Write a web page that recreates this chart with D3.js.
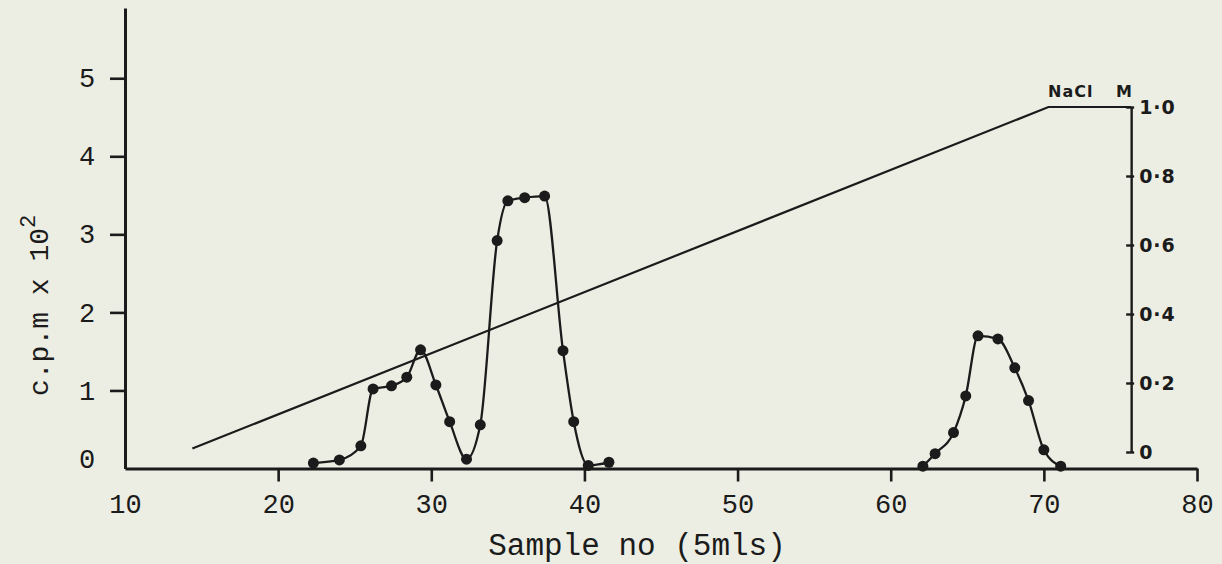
<!DOCTYPE html>
<html>
<head>
<meta charset="utf-8">
<script src="https://cdn.jsdelivr.net/npm/d3@7"></script>
<style>
  html, body { margin: 0; padding: 0; background: #eceee4; }
  svg { display: block; }
</style>
</head>
<body>
<svg id="chart" width="1222" height="564"></svg>
<script>
// Elution profile: radioactivity per fraction and the NaCl gradient.

// First radioactive peak (fractions ~22-41)
const peakASample = [22.3, 24.0, 25.4, 26.2, 27.4, 28.4, 29.3, 30.3, 31.2, 32.3, 33.2, 34.3, 35.0, 36.1, 37.4, 38.6, 39.3, 40.25, 41.6];
const peakACpm    = [0.07, 0.11, 0.29, 1.02, 1.06, 1.17, 1.52, 1.07, 0.60, 0.12, 0.56, 2.92, 3.43, 3.47, 3.49, 1.51, 0.60, 0.04, 0.08];

// Second radioactive peak (fractions ~62-71)
const peakBSample = [62.1, 62.9, 64.1, 64.9, 65.7, 67.0, 68.1, 69.0, 70.0, 71.1];
const peakBCpm    = [0.03, 0.19, 0.46, 0.93, 1.70, 1.66, 1.29, 0.87, 0.24, 0.03];

// Linear NaCl gradient, then held at 1.0 M
const gradientSample = [14.4, 70.3, 75.7];
const gradientNaCl   = [0.01, 1.0, 1.0];

// Tick values
const sampleTicks = [10, 20, 30, 40, 50, 60, 70, 80];
const cpmTicks    = [0, 1, 2, 3, 4, 5];
const naclTicks   = [0, 0.2, 0.4, 0.6, 0.8, 1.0];

// Position of the molarity axis along the sample scale
const naclAxisAt = 75.7;

const ink = "#1b1b1b";
const mono = "'Liberation Mono', 'Courier New', monospace";
const sans = "'DejaVu Sans', 'Liberation Sans', sans-serif";

const svg = d3.select("#chart");

const x  = d3.scaleLinear().domain([10, 80]).range([125, 1197]);
const yL = d3.scaleLinear().domain([0, 5.9]).range([468.5, 8]);
const yR = d3.scaleLinear().domain([0, 1]).range([452, 107]);

// Left axis (c.p.m)
const gL = svg.append("g")
  .attr("transform", `translate(${x(10)},0)`)
  .call(d3.axisLeft(yL).tickValues(cpmTicks).tickFormat(d3.format("d"))
    .tickSize(15).tickSizeOuter(0).tickPadding(17));
gL.selectAll(".tick").filter(d => d === 0).select("line").remove();

// Bottom axis (sample number)
const gB = svg.append("g")
  .attr("transform", `translate(0,${yL(0)})`)
  .call(d3.axisBottom(x).tickValues(sampleTicks).tickSize(13).tickSizeOuter(0).tickPadding(12));
gB.selectAll(".tick").filter(d => d === 10).select("line").remove();

[gL, gB].forEach(g => {
  g.select(".domain").attr("stroke", ink).attr("stroke-width", 3);
  g.selectAll(".tick line").attr("stroke", ink).attr("stroke-width", 2.6);
  g.selectAll(".tick text")
    .attr("fill", ink)
    .style("font-family", mono)
    .style("font-size", "27px");
});
gL.selectAll(".tick text").attr("text-anchor", "middle").attr("x", -38);
gL.selectAll(".tick").filter(d => d === 0).select("text").attr("y", -10);

// Right axis (NaCl molarity)
const gR = svg.append("g")
  .attr("transform", `translate(${x(naclAxisAt)},0)`)
  .call(d3.axisRight(yR).tickValues(naclTicks).tickSize(3).tickSizeOuter(0).tickPadding(5)
    .tickFormat(d => d === 0 ? "0" : d.toFixed(1).replace(".", "\u00b7")));
gR.select(".domain").attr("stroke", ink).attr("stroke-width", 2.4);
gR.selectAll(".tick line").attr("x1", -5).attr("stroke", ink).attr("stroke-width", 2.4);
gR.selectAll(".tick text")
  .attr("fill", ink)
  .style("font-family", sans)
  .style("font-weight", "bold")
  .style("font-size", "19px")
  .style("letter-spacing", "1px");

// NaCl gradient line
const gradData = gradientSample.map((s, i) => [s, gradientNaCl[i]]);
svg.append("path")
  .datum(gradData)
  .attr("fill", "none")
  .attr("stroke", ink)
  .attr("stroke-width", 2.2)
  .attr("d", d3.line().x(d => x(d[0])).y(d => yR(d[1])));

// Radioactivity peaks
const peaks = [
  peakASample.map((s, i) => [s, peakACpm[i]]),
  peakBSample.map((s, i) => [s, peakBCpm[i]])
];
const cpmLine = d3.line().x(d => x(d[0])).y(d => yL(d[1])).curve(d3.curveMonotoneX);

peaks.forEach(pts => {
  svg.append("path")
    .datum(pts)
    .attr("fill", "none")
    .attr("stroke", ink)
    .attr("stroke-width", 2.3)
    .attr("d", cpmLine);
  svg.append("g").selectAll("circle")
    .data(pts)
    .join("circle")
    .attr("cx", d => x(d[0]))
    .attr("cy", d => yL(d[1]))
    .attr("r", 5.5)
    .attr("fill", ink);
});

// Axis titles
svg.append("text")
  .attr("x", 637)
  .attr("y", 555)
  .attr("text-anchor", "middle")
  .attr("fill", ink)
  .style("font-family", mono)
  .style("font-size", "31px")
  .text("Sample no (5mls)");

const yTitle = svg.append("text")
  .attr("transform", "translate(48,396) rotate(-90)")
  .attr("fill", ink)
  .style("font-family", mono)
  .style("font-size", "28px");
yTitle.append("tspan").text("c.p.m x 10");
yTitle.append("tspan").attr("dy", -13).style("font-size", "22px").text("2");

svg.append("text")
  .attr("x", 1048)
  .attr("y", 97)
  .attr("fill", ink)
  .style("font-family", sans)
  .style("font-weight", "bold")
  .style("font-size", "16px")
  .style("letter-spacing", "1px")
  .call(t => {
    t.append("tspan").text("NaCl");
    t.append("tspan").attr("x", 1116).text("M");
  });
</script>
</body>
</html>
